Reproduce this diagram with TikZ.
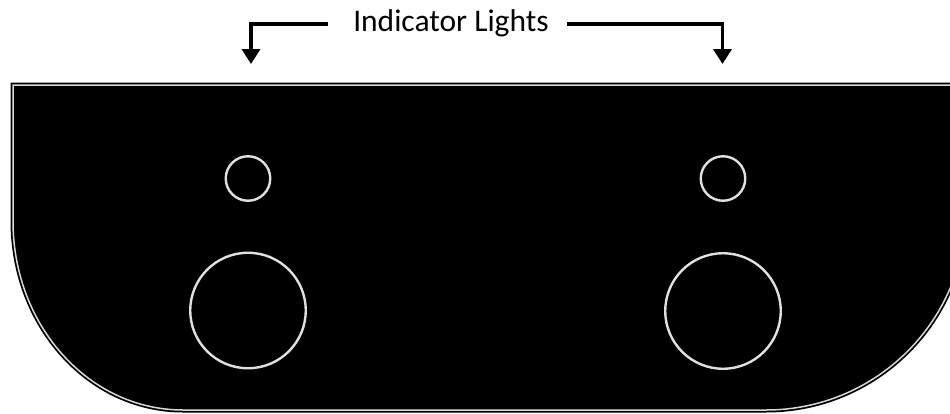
\documentclass[tikz,border=0pt]{standalone}
\usepackage{fontspec}
\setmainfont{Carlito}
\usetikzlibrary{arrows.meta}
\tikzset{
  lightsm/.style={circle, draw=white!88!black, line width=2.4pt, minimum size=44.5pt, inner sep=0pt},
  lightlg/.style={circle, draw=white!88!black, line width=2.4pt, minimum size=115.5pt, inner sep=0pt},
  callout/.style={line width=3.6pt, -{Triangle[width=18pt,length=15pt]}},
  titletext/.style={font=\fontsize{31.5}{37}\selectfont, inner sep=0pt, text=black}
}
\begin{document}
\begin{tikzpicture}[x=1pt,y=-1pt]
\useasboundingbox (0,0) rectangle (950,413);
\begin{scope}
\clip (0,0) rectangle (950,413);
% panel
\path[fill=black, draw=black, line width=5pt]
  (13,85) -- (966,85) -- (966,210)
  .. controls (966,320.5) and (876.5,410) .. (766,410)
  -- (183,410)
  .. controls (89.1,410) and (13,325.9) .. (13,221) -- cycle;
\path[draw=white!85!black, line width=1.5pt]
  (13,85) -- (966,85) -- (966,210)
  .. controls (966,320.5) and (876.5,410) .. (766,410)
  -- (183,410)
  .. controls (89.1,410) and (13,325.9) .. (13,221) -- cycle;
\end{scope}
% lights
\node[lightsm] (s1) at (248,178.5) {};
\node[lightsm] (s2) at (723,178.5) {};
\node[lightlg] (b1) at (248,310.5) {};
\node[lightlg] (b2) at (723,311) {};
% title and callouts
\node[titletext] (title) at (451,23) {Indicator Lights};
\coordinate (la) at (328,24);
\coordinate (lb) at (251,64);
\coordinate (ra) at (567,24);
\coordinate (rb) at (722.5,64);
\draw[callout] (la) -| (lb);
\draw[callout] (ra) -| (rb);
\end{tikzpicture}
\end{document}
